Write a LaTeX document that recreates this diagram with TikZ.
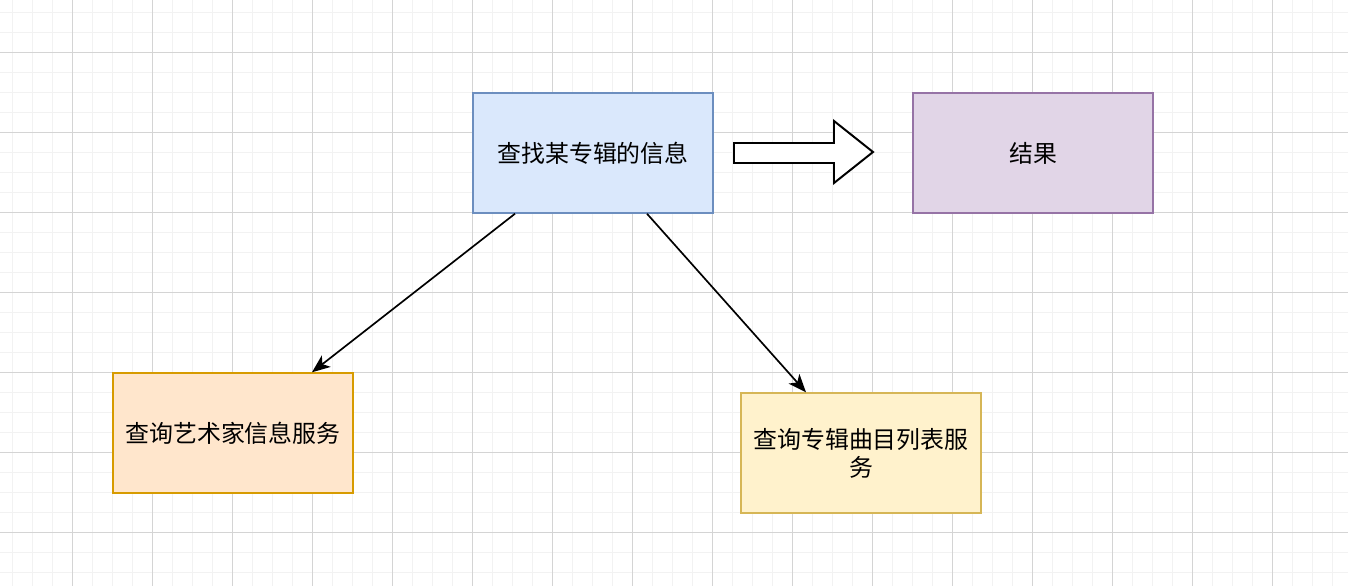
\documentclass[tikz,border=0pt]{standalone}
\usepackage{fontspec}
\setmainfont{Noto Sans CJK SC}
\usepackage{tikz}
\usetikzlibrary{arrows.meta, positioning, calc}
\usepackage{xcolor}
\definecolor{azulF}{HTML}{DAE8FC}
\definecolor{azulB}{HTML}{6C8EBF}
\definecolor{roxoF}{HTML}{E1D5E7}
\definecolor{roxoB}{HTML}{9673A6}
\definecolor{laranjaF}{HTML}{FFE6CC}
\definecolor{laranjaB}{HTML}{D79B00}
\definecolor{amareloF}{HTML}{FFF2CC}
\definecolor{amareloB}{HTML}{D6B656}
\definecolor{gradeMenor}{HTML}{F2F2F2}
\definecolor{gradeMaior}{HTML}{D4D4D4}
\tikzset{
  caixa/.style={
    draw, line width=1pt, minimum width=6cm, minimum height=3cm,
    font=\fontsize{17}{20}\selectfont, align=center, inner sep=0pt
  },
  caixaAzul/.style={caixa, fill=azulF, draw=azulB},
  caixaRoxa/.style={caixa, fill=roxoF, draw=roxoB},
  caixaLaranja/.style={caixa, fill=laranjaF, draw=laranjaB},
  caixaAmarela/.style={caixa, fill=amareloF, draw=amareloB},
}

\begin{document}
\begin{tikzpicture}[
    x=0.025cm, y=-0.025cm,
    seta/.style={
        -{Stealth[length=0.45cm, width=0.36cm, inset=0.12cm]},
        line width=1.2pt
    },
    setaBloco/.style={
        draw=black,
        fill=white,
        line width=1.4pt
    }
]

% Fundo e grade
\fill[white] (0,0) rectangle (1348,586);
\useasboundingbox (0,0) rectangle (1348,586);
\foreach \x in {12,32,...,1348}
    \draw[gradeMenor, line width=0.7pt] (\x,0) -- (\x,586);
\foreach \y in {12,32,...,586}
    \draw[gradeMenor, line width=0.7pt] (0,\y) -- (1348,\y);
\foreach \x in {72,152,...,1348}
    \draw[gradeMaior, line width=0.7pt] (\x,0) -- (\x,586);
\foreach \y in {52,132,...,586}
    \draw[gradeMaior, line width=0.7pt] (0,\y) -- (1348,\y);

% Caixas
\node[caixaAzul] (busca) at (593,153) {查找某专辑的信息};
\node[caixaRoxa] (resultado) at (1033,153) {结果};
\node[caixaLaranja] (artista) at (233,433) {查询艺术家信息服务};
\node[caixaAmarela, font=\fontsize{17}{19.9}\selectfont] (faixas) at (861,453)
{查询专辑曲目列表服\\务};

% Seta grande
\draw[setaBloco] (734,143) -- (834,143) -- (834,121) -- (873,152)
    -- (834,183) -- (834,163) -- (734,163) -- cycle;

% Ligacoes
\draw[seta] ($(busca.south)+(-78,0)$) -- ($(artista.north)+(79,0)$);
\draw[seta] ($(busca.south)+(54,0)$) -- ($(faixas.north)+(-55,0)$);

\end{tikzpicture}
\end{document}
